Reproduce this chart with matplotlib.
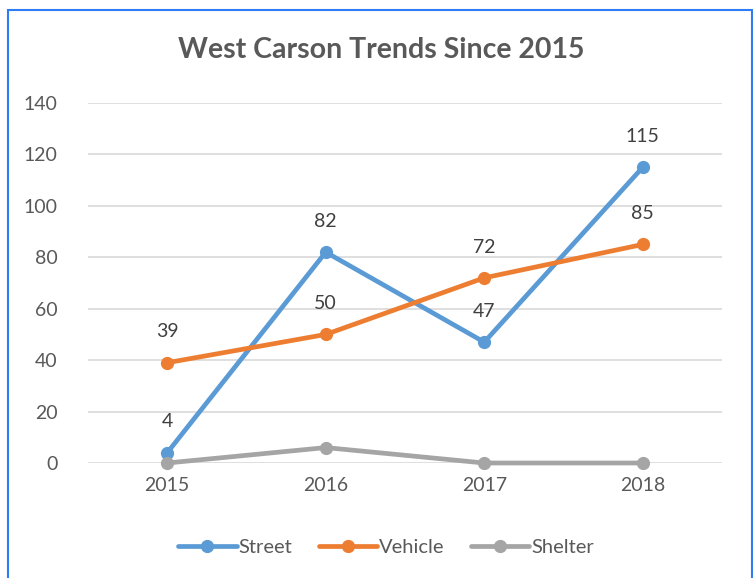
import matplotlib
matplotlib.use("Agg")
import matplotlib.pyplot as plt
from matplotlib.patches import Rectangle

years = ["2015", "2016", "2017", "2018"]
street = [4, 82, 47, 115]
vehicle = [39, 50, 72, 85]
shelter = [0, 6, 0, 0]
yticks = [0, 20, 40, 60, 80, 100, 120, 140]

plt.rcParams['font.family'] = ['Lato', 'DejaVu Sans']

fig = plt.figure(figsize=(7.53, 5.78), dpi=100)
ax = fig.add_axes([88/753, 1-463/578, (722-88)/753, (463-103)/578])

x = list(range(len(years)))
series = [("Street", street, "#5B9BD5", True),
          ("Vehicle", vehicle, "#ED7D31", True),
          ("Shelter", shelter, "#A5A5A5", False)]
for name, vals, col, lab in series:
    ax.plot(x, vals, color=col, lw=3.4, marker='o', ms=8.5, label=name,
            solid_capstyle='round', zorder=3, clip_on=False)
    if lab:
        for xi, v in zip(x, vals):
            ax.annotate(str(v), (xi, v), xytext=(0, 16), textcoords='offset points',
                        ha='center', va='bottom', fontsize=14, color='#404040')

ax.set_xlim(-0.5, 3.5)
ax.set_ylim(0, 140)
ax.set_yticks(yticks)
ax.set_xticks(x)
ax.set_xticklabels(years)
ax.grid(axis='y', color='#D9D9D9', lw=1.2)
ax.set_axisbelow(True)
for s in ax.spines.values():
    s.set_visible(False)
ax.tick_params(length=0, labelsize=14, colors='#595959', pad=10)
ax.tick_params(axis='y', pad=22)

fig.text(381/753, 1-50/578, "West Carson Trends Since 2015", ha='center', va='center',
         fontsize=20.5, fontweight='bold', color='#595959')

leg = fig.legend(loc='center', bbox_to_anchor=(386/753, 1-547/578), ncol=3, frameon=False,
                 fontsize=14.5, handlelength=2.9, columnspacing=1.3, handletextpad=0.1)
for t in leg.get_texts():
    t.set_color('#595959')

fig.patches.append(Rectangle((8/753, -0.02), (752-8)/753, 1-10/578+0.02,
                             transform=fig.transFigure, fill=False,
                             edgecolor='#2E7CF6', lw=1.5))

fig.savefig("out.png", dpi=100)
